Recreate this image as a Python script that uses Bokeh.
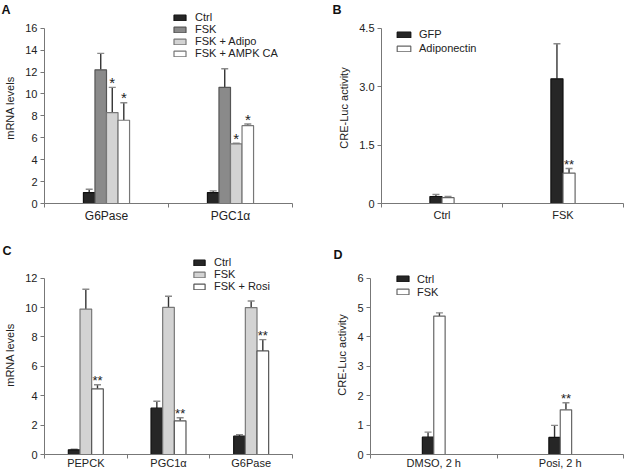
from bokeh.plotting import figure
from bokeh.layouts import column, row
from bokeh.models import Range1d, FixedTicker, Whisker, TeeHead, ColumnDataSource, Legend, LegendItem
from bokeh.embed import file_html
from bokeh.resources import INLINE

FONT = "Liberation Sans"

# ---------------- data ----------------
# Panel A
A_categories = ["G6Pase", "PGC1\u03b1"]
A_series = ["Ctrl", "FSK", "FSK + Adipo", "FSK + AMPK CA"]
A_ctrl = [1.0, 1.0]
A_ctrl_sd = [0.3, 0.15]
A_fsk = [12.2, 10.6]
A_fsk_sd = [1.5, 1.7]
A_adipo = [8.3, 5.45]
A_adipo_sd = [2.3, 0.05]
A_ampk = [7.6, 7.1]
A_ampk_sd = [1.6, 0.15]
A_sig = [["", ""], ["", ""], ["*", "*"], ["*", "*"]]
A_yticks = [0, 2, 4, 6, 8, 10, 12, 14, 16]

# Panel B
B_categories = ["Ctrl", "FSK"]
B_series = ["GFP", "Adiponectin"]
B_gfp = [0.18, 3.2]
B_gfp_sd = [0.05, 0.9]
B_adipo = [0.15, 0.78]
B_adipo_sd = [0.03, 0.12]
B_sig = [["", ""], ["", "**"]]
B_yticks = [0, 1.5, 3.0, 4.5]
B_yticklabels = ["0", "1.5", "3.0", "4.5"]

# Panel C
C_categories = ["PEPCK", "PGC1\u03b1", "G6Pase"]
C_series = ["Ctrl", "FSK", "FSK + Rosi"]
C_ctrl = [0.32, 3.15, 1.25]
C_ctrl_sd = [0.04, 0.47, 0.1]
C_fsk = [9.9, 10.02, 10.0]
C_fsk_sd = [1.35, 0.75, 0.45]
C_rosi = [4.47, 2.29, 7.05]
C_rosi_sd = [0.28, 0.21, 0.77]
C_sig = [["", "", ""], ["", "", ""], ["**", "**", "**"]]
C_yticks = [0, 2, 4, 6, 8, 10, 12]

# Panel D
D_categories = ["DMSO, 2 h", "Posi, 2 h"]
D_series = ["Ctrl", "FSK"]
D_ctrl = [0.59, 0.58]
D_ctrl_sd = [0.17, 0.41]
D_fsk = [4.71, 1.52]
D_fsk_sd = [0.11, 0.24]
D_sig = [["", ""], ["", "**"]]
D_yticks = [0, 1, 2, 3, 4, 5, 6]


def panel(width, height, left, right, top, bottom, ppu, y_bound,
          categories, series, values, sds, sigs, fills, lines, bar_w,
          yticks, yticklabels, ylabel, letter, letter_off, letter_standoff,
          legend_loc, legend_row, glyph_w, glyph_gap,
          xlabel_size, xlabel_standoff, star_size, star_off):
    n = len(categories)
    y_top = (height - top - bottom) / ppu
    p = figure(width=width, height=height, x_range=Range1d(0, n),
               y_range=Range1d(0, y_top), toolbar_location=None,
               output_backend="svg", min_border=0,
               min_border_left=left, min_border_right=right,
               min_border_top=top, min_border_bottom=bottom)
    p.outline_line_color = None
    p.xgrid.visible = False
    p.ygrid.visible = False
    p.background_fill_color = None
    p.border_fill_color = None

    p.title.text = letter
    p.title.align = "left"
    p.title.offset = letter_off
    p.title.standoff = letter_standoff
    p.title.text_font = FONT
    p.title.text_font_size = "12.5px"
    p.title.text_font_style = "bold"
    p.title.text_color = "#111111"

    m = len(series)
    items = []
    for j in range(m):
        xs = [i + 0.5 + (j - (m - 1) / 2) * bar_w for i in range(n)]
        hi = [v + s for v, s in zip(values[j], sds[j])]
        src = ColumnDataSource(dict(x=xs, top=values[j], hi=hi, sig=sigs[j]))
        r = p.vbar(x="x", top="top", bottom=0, width=bar_w, source=src,
                   fill_color=fills[j], line_color=lines[j], line_width=1.2)
        items.append(LegendItem(label=series[j], renderers=[r]))
        w = Whisker(source=src, base="x", lower="top", upper="hi",
                    dimension="height", line_color="#333333", line_width=1.4,
                    upper_head=TeeHead(size=7, line_color="#8a8a8a", line_width=1.4),
                    lower_head=None)
        p.add_layout(w)
        p.text(x="x", y="hi", text="sig", source=src, text_align="center",
               text_baseline="alphabetic", y_offset=star_off,
               text_font_size=star_size, text_color="#222222",
               text_font={"value": FONT})

    # x axis: labels at category centres, ticks at boundaries
    xa = p.xaxis[0]
    xa.ticker = FixedTicker(ticks=[i + 0.5 for i in range(n)],
                            minor_ticks=[float(i) for i in range(n + 1)])
    xa.major_label_overrides = {i + 0.5: c for i, c in enumerate(categories)}
    xa.major_tick_out = 0
    xa.major_tick_in = 0
    xa.minor_tick_out = 4
    xa.minor_tick_in = 0
    xa.major_label_standoff = xlabel_standoff
    xa.major_label_text_font = FONT
    xa.major_label_text_font_size = xlabel_size
    xa.major_label_text_color = "#222222"
    xa.axis_line_color = "#777777"
    xa.minor_tick_line_color = "#777777"

    ya = p.yaxis[0]
    ya.ticker = FixedTicker(ticks=yticks, minor_ticks=[])
    ya.bounds = (0, y_bound)
    if yticklabels is not None:
        ya.major_label_overrides = {t: l for t, l in zip(yticks, yticklabels)}
    ya.major_tick_out = 4
    ya.major_tick_in = 0
    ya.minor_tick_out = 0
    ya.major_label_standoff = 3
    ya.major_label_text_font = FONT
    ya.major_label_text_font_size = "11px"
    ya.major_label_text_color = "#222222"
    ya.axis_line_color = "#777777"
    ya.major_tick_line_color = "#777777"
    ya.axis_label = ylabel
    ya.axis_label_standoff = 6
    ya.axis_label_text_font = FONT
    ya.axis_label_text_font_size = "11px"
    ya.axis_label_text_font_style = "normal"
    ya.axis_label_text_color = "#222222"

    leg = Legend(items=items, location=legend_loc, orientation="vertical",
                 padding=0, margin=0, spacing=0, label_height=legend_row,
                 glyph_height=7, glyph_width=glyph_w, label_standoff=glyph_gap,
                 label_text_font=FONT, label_text_font_size="11px",
                 label_text_line_height=0.9,
                 label_text_color="#222222", border_line_color=None,
                 background_fill_alpha=0)
    p.add_layout(leg)
    return p


pA = panel(310, 225, 44, 18, 12, 22, 175.3 / 16, 16,
           A_categories, A_series, [A_ctrl, A_fsk, A_adipo, A_ampk],
           [A_ctrl_sd, A_fsk_sd, A_adipo_sd, A_ampk_sd], A_sig,
           ["#262626", "#8a8a8a", "#d3d3d3", "#ffffff"],
           ["#111111", "#555555", "#777777", "#777777"], 0.093,
           A_yticks, None, "mRNA levels", "A", -43, -8,
           (128, 144), 11, 15, 8, "12px", 1, "15px", -5)

pB = panel(314, 225, 71, 1, 12, 22, 175.3 / 4.5, 4.5,
           B_categories, B_series, [B_gfp, B_adipo], [B_gfp_sd, B_adipo_sd], B_sig,
           ["#262626", "#ffffff"], ["#111111", "#666666"], 0.1,
           B_yticks, B_yticklabels, "CRE-Luc activity", "B", -49, -8,
           (14, 148), 14, 17, 7, "11px", 1, "13px", -4)

pC = panel(310, 246, 44, 18, 30, 17, 176.3 / 12, 12,
           C_categories, C_series, [C_ctrl, C_fsk, C_rosi],
           [C_ctrl_sd, C_fsk_sd, C_rosi_sd], C_sig,
           ["#262626", "#d3d3d3", "#ffffff"], ["#111111", "#777777", "#555555"], 0.141,
           C_yticks, None, "mRNA levels", "C", -42, -4,
           (148, 162), 12, 14, 8, "11px", -2, "13px", -4)

pD = panel(314, 246, 60, 1, 30, 17, 176.3 / 6, 6,
           D_categories, D_series, [D_ctrl, D_fsk], [D_ctrl_sd, D_fsk_sd], D_sig,
           ["#262626", "#ffffff"], ["#111111", "#666666"], 0.09,
           D_yticks, None, "CRE-Luc activity", "D", -37, -12,
           (25, 156), 13, 15, 7, "11px", -2, "13px", -4)

layout = column(row(pA, pB), row(pC, pD))

open("out.html", "w").write(file_html(layout, INLINE))
